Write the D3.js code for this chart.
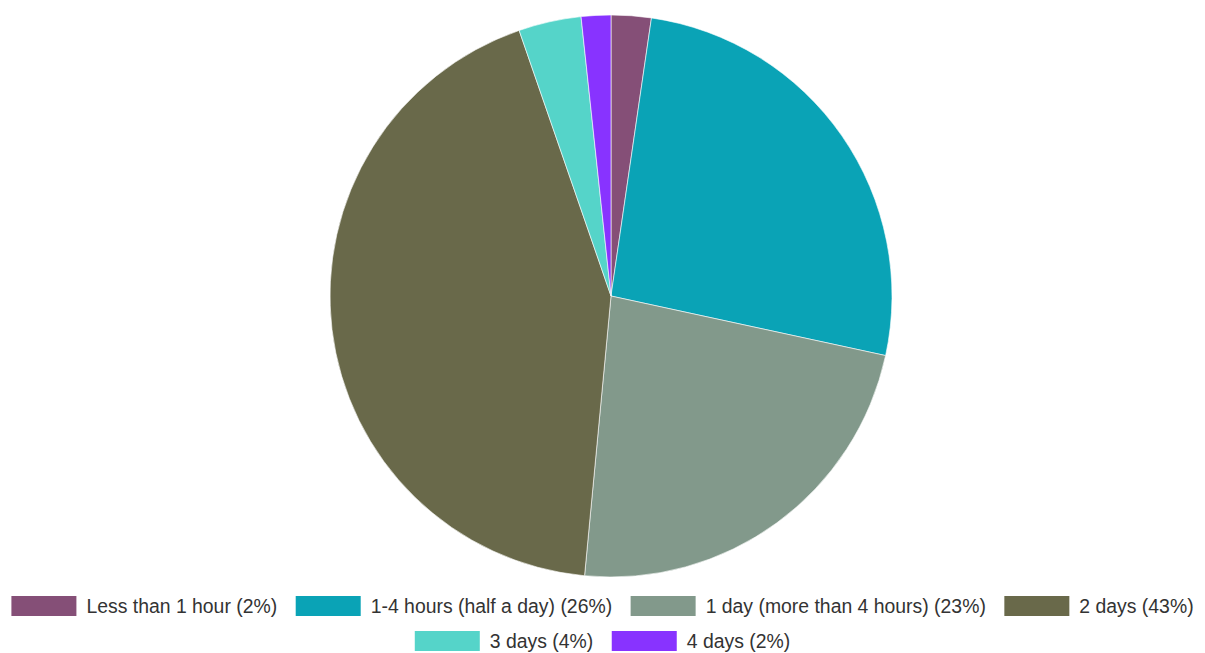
<!DOCTYPE html>
<html><head><meta charset="utf-8">
<script src="https://cdn.jsdelivr.net/npm/d3@7"></script>
<style>body{margin:0;background:#fff;} svg{display:block;}</style>
</head><body>
<svg id="chart" width="1205" height="653"></svg>
<script>
const categories = ["Less than 1 hour", "1-4 hours (half a day)", "1 day (more than 4 hours)", "2 days", "3 days", "4 days"];
const values = [2.3, 26.1, 23.1, 43.2, 3.6, 1.7];
const labels = ["2%", "26%", "23%", "43%", "4%", "2%"];
const colors = ["#854f77", "#0aa3b6", "#82998b", "#69694a", "#55d4c9", "#8833ff"];

const svg = d3.select("#chart");
const cx = 611, cy = 296, r = 281;
const pie = d3.pie().sort(null).value(d => d.v);
const data = categories.map((c, i) => ({c, v: values[i], col: colors[i], lab: labels[i]}));
const arc = d3.arc().innerRadius(0).outerRadius(r);
svg.append("g").attr("transform", `translate(${cx},${cy})`)
  .selectAll("path").data(pie(data)).join("path")
  .attr("d", arc).attr("fill", d => d.data.col)
  .attr("stroke", "#ffffff").attr("stroke-width", 0.6);

// legend
const fs = 19.4, sw = 65, sh = 20, gapT = 10, gapI = 18.5, legendCx = 602.5;
const rows = [[0,1,2,3],[4,5]];
const rowY = [606, 641];
const lg = svg.append("g");
rows.forEach((row, ri) => {
  const items = row.map(i => {
    const g = lg.append("g");
    g.append("rect").attr("width", sw).attr("height", sh).attr("y", -sh/2).attr("fill", colors[i]);
    const t = g.append("text").attr("x", sw + gapT).attr("dy", "0.35em")
      .attr("font-family", "Liberation Sans, Arial, sans-serif").attr("font-size", fs)
      .attr("fill", "#333").text(`${categories[i]} (${labels[i]})`);
    return {g, w: sw + gapT + t.node().getComputedTextLength()};
  });
  const total = d3.sum(items, d => d.w) + gapI * (items.length - 1);
  let x = legendCx - total / 2;
  items.forEach(it => { it.g.attr("transform", `translate(${x},${rowY[ri]})`); x += it.w + gapI; });
});
</script>
</body></html>
